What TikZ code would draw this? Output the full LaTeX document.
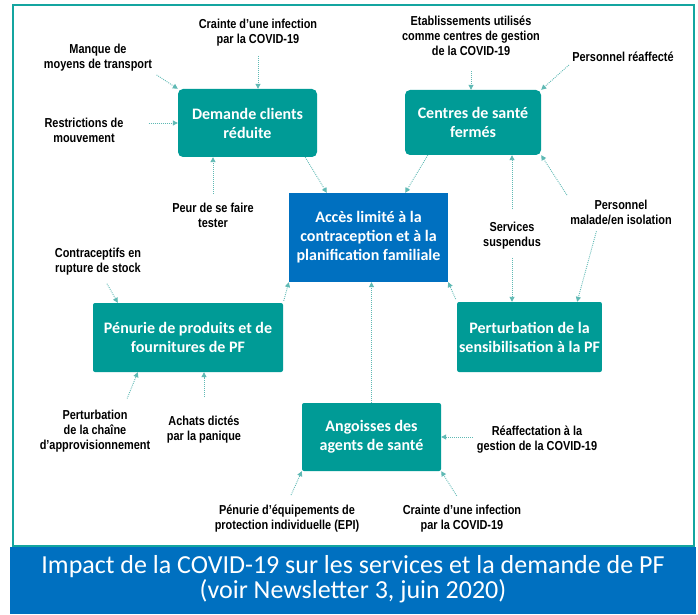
\documentclass[tikz,border=0pt]{standalone}
\usepackage{fontspec}
\setmainfont{Carlito}
\newfontfamily\causefont[FakeStretch=0.84, UprightFont={* Bold}]{Liberation Sans}
\usetikzlibrary{positioning,arrows.meta}

\definecolor{sarcelle}{RGB}{0,155,150}
\definecolor{bleupf}{RGB}{0,112,192}
\definecolor{cadre}{RGB}{20,165,160}
\definecolor{pointille}{RGB}{95,185,180}

\tikzset{
  boite/.style={rectangle, fill=sarcelle, text=white, align=center, inner sep=2pt,
    font=\fontsize{16}{19}\selectfont\bfseries, rounded corners=2pt},
  cause/.style={align=center, inner sep=1pt, text=black,
    font=\causefont\fontsize{13}{15}\selectfont},
  lien/.style={draw=pointille, line width=0.9pt, dash pattern=on 0.9pt off 1.1pt,
    -{Triangle[length=5pt,width=5pt]}}
}

\begin{document}
\begin{tikzpicture}[x=1pt, y=1pt, on grid]
    \useasboundingbox (0,0) rectangle (698,614);
    \draw[cadre, line width=2pt] (13,609) rectangle (694,68);
    \fill[bleupf] (10,0) rectangle (696,67);

    % effets
    \node (acces) [boite, fill=bleupf, rounded corners=0pt, minimum width=159pt, minimum height=89pt] at (368.5,376.5) {Accès limité à la\\contraception et à la\\planification familiale};
    \node (demande) [boite, rounded corners=5pt, minimum width=139pt, minimum height=68pt, above left=114.5pt and 121pt of acces] {Demande clients\\réduite};
    \node (centres) [boite, rounded corners=5pt, minimum width=136pt, minimum height=65pt, above right=115pt and 104.5pt of acces] {Centres de santé\\fermés};
    \node (penurie) [boite, minimum width=190pt, minimum height=69pt, below left=100pt and 180.5pt of acces] {Pénurie de produits et de\\fournitures de PF};
    \node (sensib) [boite, minimum width=143pt, minimum height=70pt, below right=99.5pt and 161pt of acces] {Perturbation de la\\sensibilisation à la PF};
    \node (angoisses) [boite, minimum width=139pt, minimum height=68pt, below right=199.5pt and 3pt of acces] {Angoisses des\\agents de santé};

    % causes
    \node (craintehaut) [cause, above right=90pt and 10.5pt of demande] {Crainte d’une infection\\par la COVID-19};
    \node (manque) [cause, above left=65pt and 149.5pt of demande] {Manque de\\moyens de transport};
    \node (restrict) [cause, below left=7pt and 163.5pt of demande] {Restrictions de\\mouvement};
    \node (peur) [cause, below left=92pt and 34.5pt of demande] {Peur de se faire\\tester};
    \node (etab) [cause, above left=86.5pt and 2pt of centres] {Etablissements utilisés\\comme centres de gestion\\de la COVID-19};
    \node (reaffecte) [cause, above right=65.5pt and 150pt of centres] {Personnel réaffecté};
    \node (services) [cause, below right=113.5pt and 39pt of centres] {Services\\suspendus};
    \node (malade) [cause, below right=89.5pt and 148pt of centres] {Personnel\\malade/en isolation};
    \node (contra) [cause, above left=75.5pt and 90pt of penurie] {Contraceptifs en\\rupture de stock};
    \node (chaine) [cause, below left=93.5pt and 93pt of penurie] {Perturbation\\de la chaîne\\d’approvisionnement};
    \node (achats) [cause, below right=92.5pt and 16pt of penurie] {Achats dictés\\par la panique};
    \node (reaffect) [cause, below right=3pt and 165.5pt of angoisses] {Réaffectation à la\\gestion de la COVID-19};
    \node (epi) [cause, below left=82pt and 84.5pt of angoisses] {Pénurie d’équipements de\\protection individuelle (EPI)};
    \node (craintebas) [cause, below right=82pt and 90.5pt of angoisses] {Crainte d’une infection\\par la COVID-19};

    \node (titre) [align=center, text=white, font=\fontsize{26}{25}\selectfont] at (353,35) {Impact de la COVID-19 sur les services et la demande de PF\\(voir Newsletter 3, juin 2020)};

    % liens
    \draw[lien, shorten <=8pt] (craintehaut.south) to (craintehaut.south |- demande.north);
    \draw[lien, shorten <=4pt] (manque.south east) to (demande.north west);
    \draw[lien, shorten <=24pt] (restrict.east |- demande.west) to (demande.west);
    \draw[lien, shorten <=8pt] (peur.north) to (peur.north |- demande.south);
    \draw[lien] ([xshift=-12pt]demande.south east) to ([xshift=38pt]acces.north west);
    \draw[lien] ([xshift=23pt]centres.south west) to ([xshift=-43pt]acces.north east);
    \draw[lien, shorten <=14pt] (etab.south) to (etab.south |- centres.north);
    \draw[lien, shorten <=3pt] (reaffecte.south west) to (centres.north east);
    \draw[lien, shorten <=12pt] (services.north) to (services.north |- centres.south);
    \draw[lien, shorten <=7pt] (services.south) to (services.south |- sensib.north);
    \draw[lien, shorten <=4pt] (malade.north west) to (centres.south east);
    \draw[lien, shorten <=6pt] ([xshift=-23pt]malade.south) to ([xshift=-25pt]sensib.north east);
    \draw[lien, shorten <=3pt] (sensib.north west) to (acces.south east);
    \draw[lien, shorten <=2pt] (penurie.north east) to (acces.south west);
    \draw[lien] (angoisses.north) to (angoisses.north |- acces.south);
    \draw[lien, shorten <=8pt] ([xshift=5pt]contra.south) to ([xshift=25pt]penurie.north west);
    \draw[lien, shorten <=11pt] ([xshift=28pt]chaine.north) to ([xshift=45pt]penurie.south west);
    \draw[lien, shorten <=18pt] (achats.north) to (achats.north |- penurie.south);
    \draw[lien, shorten <=3pt] (reaffect.west |- angoisses.east) to (angoisses.east);
    \draw[lien, shorten <=10pt] (epi.north) to (angoisses.south west);
    \draw[lien, shorten <=10pt] (craintebas.north) to (angoisses.south east);

\end{tikzpicture}
\end{document}
